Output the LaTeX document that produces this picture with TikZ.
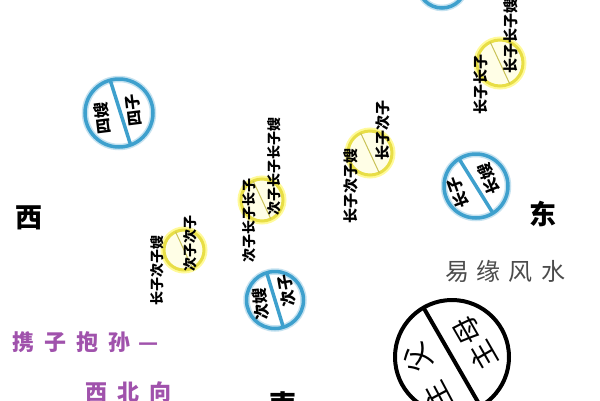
\documentclass[tikz,border=0pt]{standalone}
\usepackage{fontspec}
\newfontfamily\cjk{Noto Sans CJK SC}
\definecolor{ringblue}{RGB}{62,160,205}
\definecolor{ringyellow}{RGB}{232,222,70}
\definecolor{plum}{RGB}{160,82,172}
\definecolor{brandgray}{RGB}{75,75,75}
\begin{document}
\begin{tikzpicture}[x=1pt,y=-1pt,
  bluering/.style={circle, outer sep=0pt, inner sep=0pt, minimum size=#1,
    draw=ringblue, line width=3.5pt, preaction={draw=ringblue!30, line width=6.5pt}},
  yelring/.style={circle, outer sep=0pt, inner sep=0pt, minimum size=#1,
    draw=ringyellow, line width=3pt, fill=yellow!10, preaction={draw=yellow!40, line width=7pt}},
  blackring/.style={circle, outer sep=0pt, inner sep=0pt, minimum size=#1,
    draw=black, line width=4pt},
  blueline/.style={draw=ringblue, line width=3.5pt},
  yelline/.style={draw=ringyellow!70!gray, line width=1pt},
  ctext/.style={font=\cjk\bfseries\fontsize{16}{16}\selectfont, inner sep=0pt},
  coltext/.style={font=\cjk\bfseries\fontsize{14}{14}\selectfont, inner sep=0pt, rotate=90},
  bigtext/.style={font=\cjk\fontsize{28}{28}\selectfont, inner sep=0pt},
  compass/.style={font=\cjk\bfseries\fontsize{27}{27}\selectfont, inner sep=0pt},
  plumtext/.style={font=\cjk\bfseries\fontsize{22}{22}\selectfont, text=plum, inner sep=0pt},
]
\useasboundingbox (0,0) rectangle (600,400);
\clip (0,0) rectangle (600,400);
\fill[white] (0,0) rectangle (600,400);

% top partial blue ring
\node[bluering=48pt] (B0) at (442,-16) {};

% blue ring 四
\node[bluering=68pt] (B1) at (119,113) {};
\draw[blueline] (B1.105) -- (B1.-70);
\node[ctext, rotate=97] (B1l) at (103,118) {四嫂};
\node[ctext, rotate=97] (B1r) at (134,110) {四子};

% blue ring 次
\node[bluering=57pt] (B2) at (275,300) {};
\draw[blueline] (B2.107) -- (B2.-73);
\node[ctext, rotate=95] (B2l) at (261,304) {次嫂};
\node[ctext, rotate=100] (B2r) at (287,291) {次子};

% blue ring 长
\node[bluering=64pt] (B3) at (476,186) {};
\draw[blueline] (B3.122) -- (B3.-58);
\node[ctext, rotate=110] (B3l) at (458,193) {长子};
\node[ctext, rotate=112] (B3r) at (489,179) {长嫂};

% yellow rings
\node[yelring=40pt] (Y1) at (184,250) {};
\draw[yelline] (Y1.115) -- (Y1.-65);
\node[coltext] (Y1l) at (157,270) {长子次子嫂};
\node[coltext] (Y1r) at (190,243) {次子次子};

\node[yelring=42pt] (Y2) at (262,200) {};
\draw[yelline] (Y2.115) -- (Y2.-65);
\node[coltext] (Y2l) at (249,220) {次子长子长子};
\node[coltext] (Y2r) at (274,166) {次子长子长子嫂};

\node[yelring=44pt] (Y3) at (370,153) {};
\draw[yelline] (Y3.115) -- (Y3.-65);
\node[coltext, font=\cjk\bfseries\fontsize{15}{15}\selectfont] (Y3l) at (351,186) {长子次子嫂};
\node[coltext, font=\cjk\bfseries\fontsize{15}{15}\selectfont] (Y3r) at (383,130) {长子次子};

\node[yelring=46pt] (Y4) at (500,63) {};
\draw[yelline] (Y4.115) -- (Y4.-65);
\node[coltext, font=\cjk\bfseries\fontsize{15}{15}\selectfont] (Y4l) at (481,84) {长子长子};
\node[coltext, font=\cjk\bfseries\fontsize{15}{15}\selectfont] (Y4r) at (511,36) {长子长子嫂};

% big black ring
\node[blackring=114pt] (K) at (452,357) {};
\draw[black, line width=4pt] (K.120) -- (K.-60);
\node[bigtext, rotate=118] (Kl1) at (418,358) {父};
\node[bigtext, rotate=118] (Kl2) at (437,396) {主};
\node[bigtext, rotate=120] (Kr1) at (468,330) {母};
\node[bigtext, rotate=120] (Kr2) at (483,356) {主};

% compass labels
\node[compass] (W) at (29,218) {西};
\node[compass] (E) at (543,214) {东};
\node[compass] (S) at (283,404) {南};

% brand
\node[font=\cjk\fontsize{24}{24}\selectfont, text=brandgray, inner sep=0pt] (brand) at (505,271) {易\hspace{8pt}缘\hspace{8pt}风\hspace{8pt}水};

% purple labels
\node[plumtext, anchor=west] (p1) at (12,342) {携\hspace{10pt}子\hspace{10pt}抱\hspace{10pt}孙\hspace{8pt}—};
\node[plumtext, anchor=west] (p2) at (85,392) {西\hspace{10pt}北\hspace{10pt}向};
\end{tikzpicture}
\end{document}
